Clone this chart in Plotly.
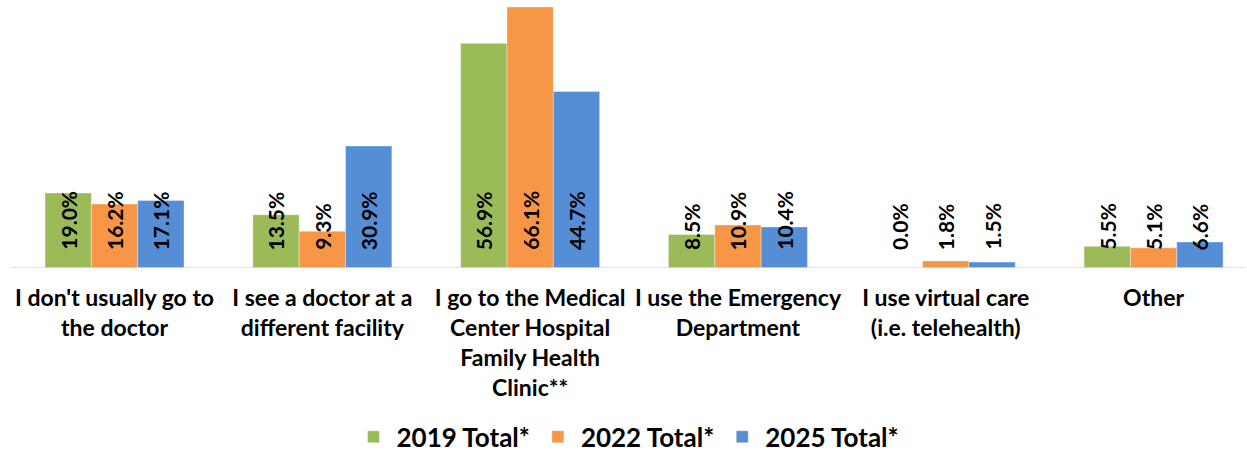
import plotly.graph_objects as go

categories = [
    "I don't usually go to<br>the doctor",
    "I see a doctor at a<br>different facility",
    "I go to the Medical<br>Center Hospital<br>Family Health<br>Clinic**",
    "I use the Emergency<br>Department",
    "I use virtual care<br>(i.e. telehealth)",
    "Other",
]
series_names = ["2019 Total*", "2022 Total*", "2025 Total*"]
values_2019 = [19.0, 13.5, 56.9, 8.5, 0.0, 5.5]
values_2022 = [16.2, 9.3, 66.1, 10.9, 1.8, 5.1]
values_2025 = [17.1, 30.9, 44.7, 10.4, 1.5, 6.6]
colors = ["#9BBB59", "#F79646", "#558ED5"]

all_values = [values_2019, values_2022, values_2025]
bar_w = 0.223
FONT = "Lato, 'Open Sans', sans-serif"

fig = go.Figure()
annotations = []
for j, (name, vals, col) in enumerate(zip(series_names, all_values, colors)):
    offset = (j - 1) * bar_w
    xs = [i + offset for i in range(len(categories))]
    fig.add_trace(go.Bar(
        x=xs, y=vals, name=name, width=bar_w,
        marker=dict(color=col, line=dict(color="rgba(255,255,255,0.6)", width=0.6)),
        cliponaxis=False,
    ))
    for x, v in zip(xs, vals):
        annotations.append(dict(
            x=x, y=0, xref="x", yref="y", text=f"<b>{v:.1f}%</b>",
            textangle=-90, showarrow=False, xanchor="center", yanchor="bottom",
            yshift=16, font=dict(family=FONT, size=21, color="black", weight="bold"),
        ))

fig.update_layout(
    width=1247, height=457,
    margin=dict(l=10, r=2, t=7, b=189, autoexpand=False),
    paper_bgcolor="white", plot_bgcolor="white",
    barmode="overlay",
    showlegend=True,
    legend=dict(orientation="h", x=0.5, xanchor="center", y=-0.647, yanchor="middle",
                font=dict(family=FONT, size=26, color="black", weight="bold"),
                itemwidth=36, traceorder="normal", tracegroupgap=0),
    annotations=annotations,
    xaxis=dict(
        range=[-0.503, 5.44], tickmode="array",
        tickvals=list(range(len(categories))),
        ticktext=[f"<b>{c}</b>" for c in categories],
        tickfont=dict(family=FONT, size=23, color="black"),
        ticklabelstandoff=14, automargin=False,
        showgrid=False, zeroline=False, showline=False, ticks="",
    ),
    yaxis=dict(range=[0, 66.1], visible=False, showgrid=False, automargin=False),
)
fig.add_shape(type="line", xref="paper", yref="y", x0=0, x1=1, y0=0, y1=0,
              line=dict(color="#D9D9D9", width=1.5))

fig.write_html("out.html")
